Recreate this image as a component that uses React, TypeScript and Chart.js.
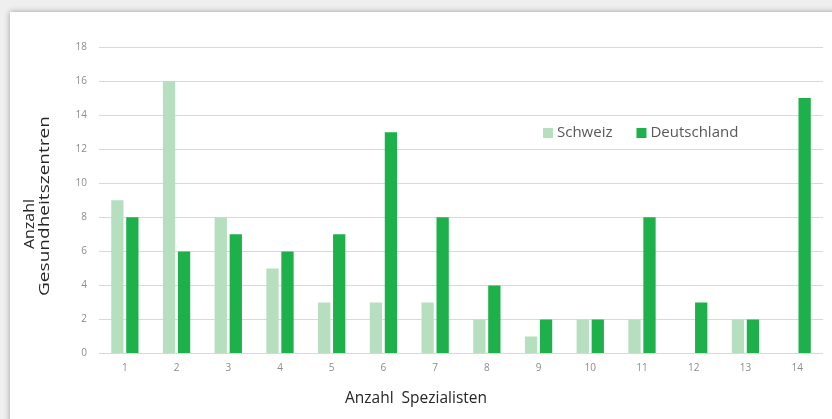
import React, { useEffect, useRef } from "react";
import { Chart, registerables } from "chart.js";

Chart.register(...registerables);

const categories = ["1", "2", "3", "4", "5", "6", "7", "8", "9", "10", "11", "12", "13", "14"];
const schweiz = [9, 16, 8, 5, 3, 3, 3, 2, 1, 2, 2, 0, 2, 0];
const deutschland = [8, 6, 7, 6, 7, 13, 8, 4, 2, 2, 8, 3, 2, 15];
const seriesNames = ["Schweiz", "Deutschland"];
const yTitle = ["Anzahl", "Gesundheitszentren"];
const xTitle = "Anzahl  Spezialisten";

const lightGreen = "#b6dfc0";
const darkGreen = "#1eb14b";
const FONT = "'Open Sans', sans-serif";

const legendPlugin = {
  id: "insideLegend",
  afterDraw(chart: any) {
    const ctx = chart.ctx;
    ctx.save();
    ctx.font = "15px " + FONT;
    ctx.textBaseline = "middle";
    ctx.textAlign = "left";
    const y = 133;
    let x = 543;
    chart.data.datasets.forEach((ds: any) => {
      ctx.fillStyle = ds.backgroundColor;
      ctx.fillRect(x, y - 5, 10, 10);
      ctx.fillStyle = "#595959";
      ctx.fillText(ds.label, x + 14, y);
      x += 14 + ctx.measureText(ds.label).width + 24;
    });
    ctx.restore();
  },
};

const yTitlePlugin = {
  id: "yTitleLines",
  afterDraw(chart: any) {
    const ctx = chart.ctx;
    ctx.save();
    ctx.font = "15px " + FONT;
    ctx.fillStyle = "#262626";
    ctx.textAlign = "center";
    ctx.textBaseline = "middle";
    const spec = [
      { text: yTitle[0], x: 30, y: 224, len: 50 },
      { text: yTitle[1], x: 45, y: 206, len: 180 },
    ];
    spec.forEach((s) => {
      const w = ctx.measureText(s.text).width;
      ctx.save();
      ctx.translate(s.x, s.y);
      ctx.rotate(-Math.PI / 2);
      ctx.scale(s.len / w, 1);
      ctx.fillText(s.text, 0, 0);
      ctx.restore();
    });
    ctx.restore();
  },
};

export default function App() {
  const ref = useRef<HTMLCanvasElement>(null);
  useEffect(() => {
    const chart = new Chart(ref.current!, {
      type: "bar",
      data: {
        labels: categories,
        datasets: [
          { label: seriesNames[0], data: schweiz, backgroundColor: lightGreen },
          { label: seriesNames[1], data: deutschland, backgroundColor: darkGreen },
        ],
      },
      options: {
        responsive: false,
        animation: false,
        layout: { padding: { left: 9, right: 9, top: 47, bottom: 0 } },
        datasets: { bar: { categoryPercentage: 0.58, barPercentage: 0.82 } },
        plugins: {
          legend: { display: false },
          tooltip: { enabled: false },
          title: {
            display: true,
            position: "bottom",
            text: xTitle,
            color: "#262626",
            font: { family: FONT, size: 15.5, weight: "normal", lineHeight: 1.2 },
            padding: { top: 8, bottom: 11 },
          },
        },
        scales: {
          x: {
            grid: { display: false, drawTicks: false },
            border: { display: false },
            ticks: { color: "#8c8c8c", font: { family: FONT, size: 10 }, padding: 9 },
            afterFit(scale: any) {
              scale.height = 27.8;
            },
          },
          y: {
            min: 0,
            max: 18,
            ticks: { stepSize: 2, color: "#8c8c8c", font: { family: FONT, size: 10 }, padding: 12 },
            grid: { color: "#d9d9d9", drawTicks: false, lineWidth: 1 },
            border: { display: false },
            afterFit(scale: any) {
              scale.width = 90;
            },
          },
        },
      },
      plugins: [legendPlugin, yTitlePlugin],
    });
    return () => chart.destroy();
  }, []);

  return (
    <div style={{ position: "absolute", left: 0, top: 0, width: 832, height: 419, background: "#efefef", overflow: "hidden" }}>
      <div
        style={{
          position: "absolute",
          left: 10,
          top: 12,
          width: 840,
          height: 430,
          background: "#ffffff",
          boxShadow: "0 0 6px rgba(0,0,0,0.35)",
        }}
      />
      <canvas ref={ref} width={832} height={419} style={{ position: "absolute", left: 0, top: 0 }} />
    </div>
  );
}
